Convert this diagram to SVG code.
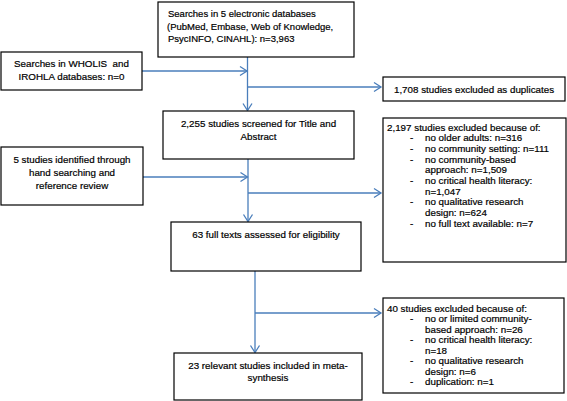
<svg xmlns="http://www.w3.org/2000/svg" width="567" height="401" viewBox="0 0 567 401">
<defs>
<style>
.box{fill:#fff;stroke:#000;stroke-width:1.2}
text{font-family:"Liberation Sans",Arial,sans-serif;font-size:9.8px;fill:#000;stroke:#000;stroke-width:0.2;white-space:pre}
.c{text-anchor:middle}
.s{font-size:9.5px}
.con{fill:none;stroke:#4a7ebb;stroke-width:1.3}
</style>
<marker id="arr" markerUnits="userSpaceOnUse" markerWidth="12" markerHeight="12" refX="9" refY="6" orient="auto">
<path d="M2,1.5 L9,6 L2,10.5" fill="none" stroke="#4a7ebb" stroke-width="1.3"/>
</marker>
</defs>
<rect width="567" height="401" fill="#fff"/>
<g id="connectors">
<line class="con" x1="247.5" y1="57" x2="247.5" y2="110.5" marker-end="url(#arr)"/>
<line class="con" x1="142" y1="71" x2="247" y2="71" marker-end="url(#arr)"/>
<line class="con" x1="247.5" y1="87" x2="381" y2="87" marker-end="url(#arr)"/>
<line class="con" x1="248" y1="159" x2="248" y2="221.5" marker-end="url(#arr)"/>
<line class="con" x1="143" y1="177" x2="247.5" y2="177" marker-end="url(#arr)"/>
<line class="con" x1="248" y1="193" x2="381" y2="193" marker-end="url(#arr)"/>
<line class="con" x1="255" y1="271" x2="255" y2="352.5" marker-end="url(#arr)"/>
<line class="con" x1="255" y1="313" x2="381" y2="313" marker-end="url(#arr)"/>
</g>
<g id="n1">
<rect class="box" x="158" y="2" width="196" height="55"/>
<text class="s" x="168" y="17">Searches in 5 electronic databases</text>
<text class="s" x="167" y="29.5">(PubMed, Embase, Web of Knowledge,</text>
<text class="s" x="168" y="42">PsycINFO, CINAHL): n=3,963</text>
</g>
<g id="n2">
<rect class="box" x="1" y="52" width="141" height="38"/>
<text class="c" x="71.5" y="66.5">Searches in WHOLIS  and</text>
<text class="c" x="71.5" y="79.5">IROHLA databases: n=0</text>
</g>
<g id="n3">
<rect class="box" x="383" y="77" width="182" height="24"/>
<text class="c" x="474" y="92.5">1,708 studies excluded as duplicates</text>
</g>
<g id="n4">
<rect class="box" x="163" y="111" width="191" height="48"/>
<text class="c" x="258.5" y="126.5">2,255 studies screened for Title and</text>
<text class="c" x="258.5" y="139.5">Abstract</text>
</g>
<g id="n5">
<rect class="box" x="383" y="118" width="183" height="144"/>
<text x="387" y="130.5">2,197 studies excluded because of:</text>
<text x="410" y="141.2">-</text><text x="425" y="141.2">no older adults: n=316</text>
<text x="410" y="151.8">-</text><text x="425" y="151.8">no community setting: n=111</text>
<text x="410" y="162.5">-</text><text x="425" y="162.5">no community-based</text>
<text x="425" y="173.2">approach: n=1,509</text>
<text x="410" y="183.8">-</text><text x="425" y="183.8">no critical health literacy:</text>
<text x="425" y="194.5">n=1,047</text>
<text x="410" y="205.2">-</text><text x="425" y="205.2">no qualitative research</text>
<text x="425" y="215.8">design: n=624</text>
<text x="410" y="226.5">-</text><text x="425" y="226.5">no full text available: n=7</text>
</g>
<g id="n6">
<rect class="box" x="1" y="147" width="142" height="58"/>
<text class="c" x="72" y="162.5">5 studies identified through</text>
<text class="c" x="72" y="175.5">hand searching and</text>
<text class="c" x="72" y="188.5">reference review</text>
</g>
<g id="n7">
<rect class="box" x="171" y="222" width="190" height="49"/>
<text class="c" x="266" y="237.5">63 full texts assessed for eligibility</text>
</g>
<g id="n8">
<rect class="box" x="383" y="298" width="181" height="95"/>
<text x="387" y="311.5">40 studies excluded because of:</text>
<text x="410" y="322">-</text><text x="425" y="322">no or limited community-</text>
<text x="425" y="332.5">based approach: n=26</text>
<text x="410" y="343">-</text><text x="425" y="343">no critical health literacy:</text>
<text x="425" y="353.5">n=18</text>
<text x="410" y="364">-</text><text x="425" y="364">no qualitative research</text>
<text x="425" y="374.5">design: n=6</text>
<text x="410" y="385">-</text><text x="425" y="385">duplication: n=1</text>
</g>
<g id="n9">
<rect class="box" x="174" y="353" width="188" height="47"/>
<text class="c" x="268" y="368.5">23 relevant studies included in meta-</text>
<text class="c" x="268" y="381">synthesis</text>
</g>
</svg>
